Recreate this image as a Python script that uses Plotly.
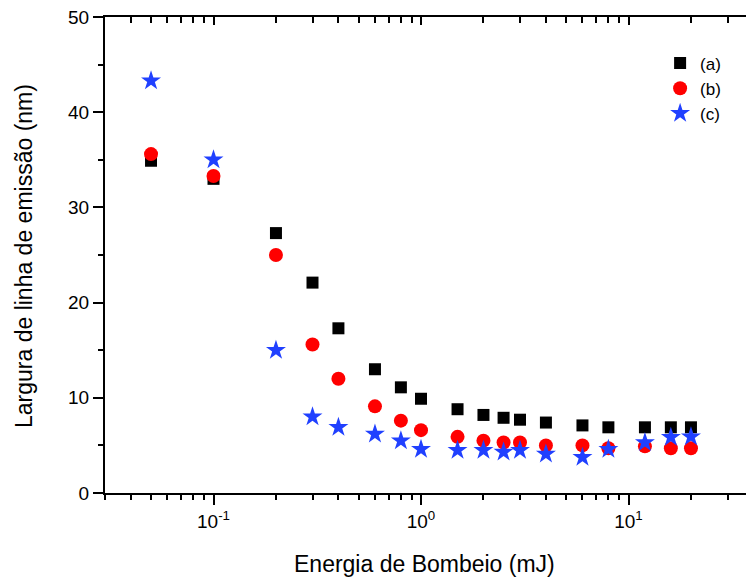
import plotly.graph_objects as go
import math

energy = [0.05, 0.1, 0.2, 0.3, 0.4, 0.6, 0.8, 1.0, 1.5, 2, 2.5, 3, 4, 6, 8, 12, 16, 20]
width_a = [34.9, 33.0, 27.3, 22.1, 17.3, 13.0, 11.1, 9.9, 8.8, 8.2, 7.9, 7.7, 7.4, 7.1, 6.9, 6.9, 6.9, 6.9]
width_b = [35.6, 33.3, 25.0, 15.6, 12.0, 9.1, 7.6, 6.6, 5.9, 5.5, 5.3, 5.3, 5.0, 5.0, 4.7, 4.9, 4.7, 4.7]
width_c = [43.3, 35.0, 15.0, 8.0, 6.9, 6.2, 5.5, 4.6, 4.5, 4.5, 4.3, 4.5, 4.1, 3.75, 4.6, 5.3, 5.85, 5.9]

x_major = [0.1, 1, 10]
x_major_text = ["10<sup>-1</sup>", "10<sup>0</sup>", "10<sup>1</sup>"]
x_minor = [m * d for d in [0.01, 0.1, 1, 10] for m in range(2, 10)]
y_major = [0, 10, 20, 30, 40, 50]
y_minor = [5, 15, 25, 35, 45]

font = "Liberation Sans, Arial, sans-serif"
xr = [math.log10(0.03), math.log10(0.03) + 641 / 207.5]

fig = go.Figure()
fig.add_trace(go.Scatter(x=energy, y=width_a, mode="markers", name="(a)",
                         marker=dict(symbol="square", size=12, color="#000000")))
fig.add_trace(go.Scatter(x=energy, y=width_b, mode="markers", name="(b)",
                         marker=dict(symbol="circle", size=14, color="#ff0000")))
fig.add_trace(go.Scatter(x=energy, y=width_c, mode="markers", name="(c)",
                         marker=dict(symbol="star", size=15, color="#2040ff")))
fig.add_trace(go.Scatter(x=[0.1], y=[None], xaxis="x2", showlegend=False, hoverinfo="skip"))

fig.update_layout(
    width=746, height=578,
    margin=dict(l=105, r=0, t=17, b=85, autoexpand=False),
    paper_bgcolor="white", plot_bgcolor="white",
    font=dict(family=font, size=17, color="black"),
    showlegend=True,
    legend=dict(x=0.866, y=0.94, xanchor="left", yanchor="top",
                font=dict(family=font, size=17, color="black"),
                bgcolor="rgba(0,0,0,0)", tracegroupgap=0, itemsizing="trace"),
    xaxis=dict(type="log", range=xr, showgrid=False, zeroline=False, automargin=False,
               showline=True, linecolor="black", linewidth=2,
               ticks="outside", ticklen=10, tickwidth=2, tickcolor="black",
               tickvals=x_major, ticktext=x_major_text,
               tickfont=dict(family=font, size=19, color="black"),
               minor=dict(tickvals=x_minor, ticks="outside", ticklen=5, tickwidth=1.5, tickcolor="black")),
    xaxis2=dict(type="log", range=xr, overlaying="x", side="top", showgrid=False, automargin=False,
                zeroline=False, showline=True, linecolor="black", linewidth=2,
                ticks="inside", ticklen=8, tickwidth=2, tickcolor="black",
                tickvals=x_major, showticklabels=False,
                minor=dict(tickvals=x_minor, ticks="inside", ticklen=6, tickwidth=1.5, tickcolor="black")),
    yaxis=dict(range=[0, 50], showgrid=False, zeroline=False, automargin=False,
               showline=True, linecolor="black", linewidth=2,
               ticks="outside", ticklen=10, tickwidth=2, tickcolor="black",
               tickvals=y_major,
               tickfont=dict(family=font, size=19, color="black"),
               minor=dict(tickvals=y_minor, ticks="outside", ticklen=5, tickwidth=1.5, tickcolor="black")),
    annotations=[
        dict(text="Energia de Bombeio (mJ)", xref="paper", yref="paper",
             x=(424 - 105) / 641, y=-(564 - 493) / 476, xanchor="center", yanchor="middle",
             showarrow=False, font=dict(family=font, size=23, color="black")),
        dict(text="Largura de linha de emissão (nm)", xref="paper", yref="paper",
             x=-(105 - 24) / 641, y=(493 - 256) / 476, xanchor="center", yanchor="middle",
             textangle=-90, showarrow=False, font=dict(family=font, size=23, color="black")),
    ],
)

fig.write_html("out.html", config={"displayModeBar": False},
               post_script="document.body.style.margin='0';document.body.style.overflow='hidden';")
